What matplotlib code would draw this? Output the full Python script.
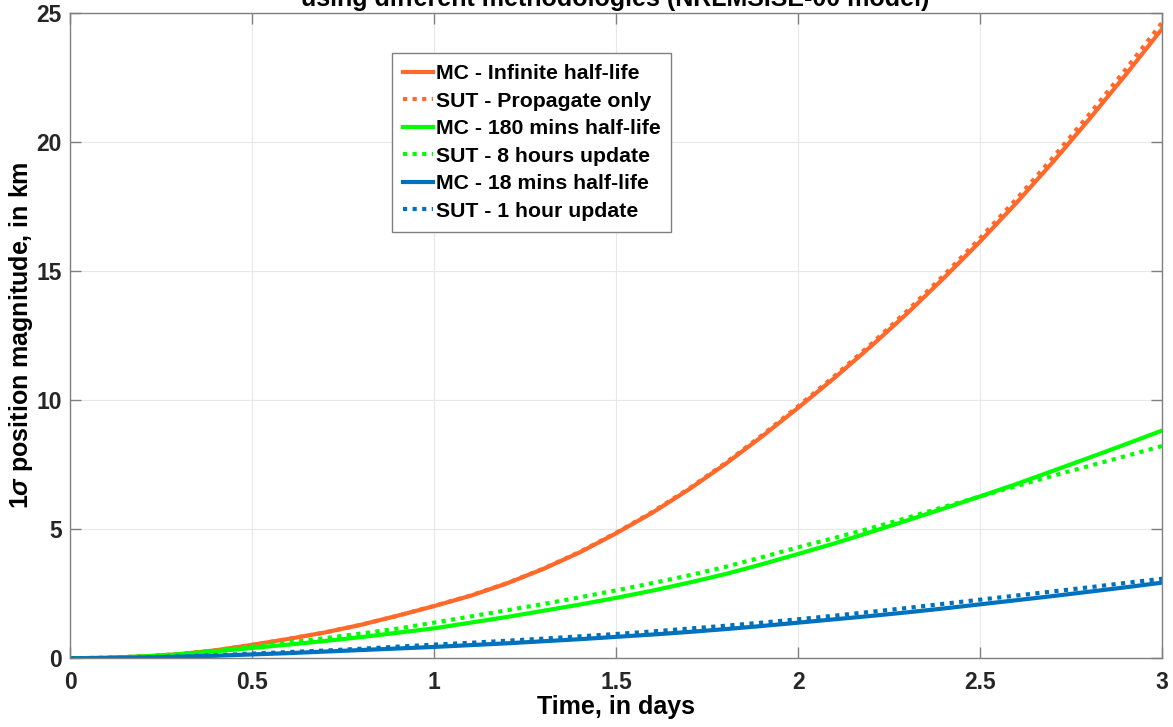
import matplotlib
matplotlib.use("Agg")
import matplotlib.pyplot as plt

plt.rcParams['font.family'] = ['Liberation Sans', 'DejaVu Sans']
plt.rcParams['font.weight'] = 'bold'
plt.rcParams['mathtext.fontset'] = 'custom'
plt.rcParams['mathtext.it'] = 'Liberation Sans:italic:bold'
plt.rcParams['mathtext.rm'] = 'Liberation Sans:bold'

# time axis, in days
days = [0.0, 0.1, 0.2, 0.3, 0.4, 0.5, 0.6, 0.7, 0.8, 0.9, 1.0,
        1.1, 1.2, 1.3, 1.4, 1.5, 1.6, 1.7, 1.8, 1.9, 2.0,
        2.1, 2.2, 2.3, 2.4, 2.5, 2.6, 2.7, 2.8, 2.9, 3.0]

# 1-sigma position magnitude (km)
mc_inf = [0.0, 0.02, 0.07, 0.16, 0.31, 0.52, 0.75, 1.00, 1.30, 1.65, 2.02,
          2.42, 2.90, 3.46, 4.10, 4.84, 5.64, 6.54, 7.52, 8.58, 9.70,
          10.86, 12.08, 13.36, 14.72, 16.14, 17.64, 19.22, 20.88, 22.60, 24.38]
sut_prop = [0.0, 0.02, 0.07, 0.16, 0.31, 0.52, 0.75, 1.00, 1.30, 1.65, 2.03,
            2.43, 2.91, 3.47, 4.12, 4.86, 5.67, 6.57, 7.56, 8.63, 9.76,
            10.93, 12.16, 13.46, 14.83, 16.27, 17.79, 19.39, 21.07, 22.81, 24.62]
mc_180 = [0.0, 0.02, 0.07, 0.15, 0.27, 0.40, 0.53, 0.67, 0.82, 0.99, 1.16,
          1.38, 1.60, 1.84, 2.08, 2.34, 2.62, 2.93, 3.26, 3.64, 4.04,
          4.45, 4.89, 5.34, 5.80, 6.27, 6.75, 7.26, 7.77, 8.29, 8.82]
sut_8h = [0.0, 0.02, 0.07, 0.16, 0.29, 0.45, 0.61, 0.78, 0.96, 1.15, 1.38,
          1.62, 1.86, 2.10, 2.36, 2.63, 2.91, 3.21, 3.54, 3.91, 4.30,
          4.66, 5.04, 5.44, 5.86, 6.27, 6.67, 7.07, 7.45, 7.83, 8.22]
mc_18 = [0.0, 0.01, 0.03, 0.06, 0.10, 0.15, 0.20, 0.26, 0.32, 0.38, 0.44,
         0.51, 0.58, 0.66, 0.74, 0.83, 0.92, 1.02, 1.13, 1.25, 1.38,
         1.51, 1.64, 1.78, 1.93, 2.09, 2.25, 2.41, 2.58, 2.75, 2.93]
sut_1h = [0.0, 0.01, 0.03, 0.07, 0.12, 0.18, 0.24, 0.30, 0.37, 0.45, 0.53,
          0.60, 0.68, 0.76, 0.85, 0.94, 1.04, 1.15, 1.26, 1.38, 1.51,
          1.65, 1.80, 1.95, 2.11, 2.27, 2.43, 2.59, 2.75, 2.92, 3.08]

orange = '#FF6A2B'
green = '#00FF00'
blue = '#0072BD'
dots = (0, (1, 1.3))

fig = plt.figure(figsize=(11.73, 7.27), dpi=100)
ax = fig.add_axes([0.0597, 0.0945, 0.9312, 0.8883])

lw = 3.0
ax.plot(days, mc_inf, color=orange, lw=lw, label='MC - Infinite half-life')
ax.plot(days, sut_prop, color=orange, lw=lw, ls=dots, dash_capstyle='butt',
        label='SUT - Propagate only')
ax.plot(days, mc_180, color=green, lw=lw, label='MC - 180 mins half-life')
ax.plot(days, sut_8h, color=green, lw=lw, ls=dots, dash_capstyle='butt',
        label='SUT - 8 hours update')
ax.plot(days, mc_18, color=blue, lw=lw, label='MC - 18 mins half-life')
ax.plot(days, sut_1h, color=blue, lw=lw, ls=dots, dash_capstyle='butt',
        label='SUT - 1 hour update')

ax.set_xlim(0, 3)
ax.set_ylim(0, 25)
ax.set_xticks([0, 0.5, 1, 1.5, 2, 2.5, 3])
ax.set_xticklabels(['0', '0.5', '1', '1.5', '2', '2.5', '3'])
ax.set_yticks([0, 5, 10, 15, 20, 25])

ax.grid(True, color='#e8e8e8', lw=0.8)
ax.set_axisbelow(True)
for s in ax.spines.values():
    s.set_color('#808080')
    s.set_linewidth(1.0)
ax.tick_params(direction='in', length=8, width=1.0, color='#808080',
               top=True, right=True, labelsize=16.5, labelcolor='#262626')
ax.tick_params(axis='x', pad=9)
ax.tick_params(axis='y', pad=6)

ax.set_xlabel('Time, in days', fontsize=18, fontweight='bold', labelpad=1)
ax.set_ylabel(r'1$\sigma$ position magnitude, in km', fontsize=18,
              fontweight='bold', labelpad=1)

fig.text(0.5245, 1 - 6 / 727, 'using different methodologies (NRLMSISE-00 model)',
         ha='center', va='baseline', fontsize=18, fontweight='bold')

leg = ax.legend(loc='upper left', bbox_to_anchor=(0.2945, 0.937),
                fontsize=15.3, frameon=True, fancybox=False, framealpha=1,
                edgecolor='#808080', handlelength=1.4, handletextpad=0.15,
                labelspacing=0.4, borderpad=0.52, borderaxespad=0)
leg.get_frame().set_linewidth(1.0)
for t in leg.get_texts():
    t.set_fontweight('bold')

fig.savefig('out.png', dpi=100)
